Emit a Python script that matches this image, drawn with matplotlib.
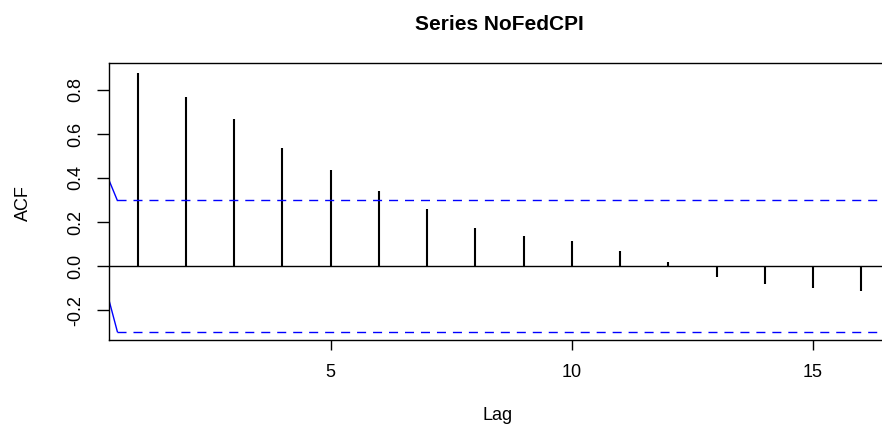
import matplotlib
matplotlib.use("Agg")
import matplotlib.pyplot as plt

plt.rcParams['font.family'] = ['Liberation Sans', 'DejaVu Sans']
plt.rcParams['axes.unicode_minus'] = False

# autocorrelations, lags 1..16
lags = list(range(1, 17))
acf = [0.879, 0.767, 0.667, 0.535, 0.436, 0.341, 0.258, 0.171,
       0.136, 0.114, 0.068, 0.017, -0.048, -0.083, -0.098, -0.114]
conf = 0.298
# the short solid blue pieces at the left edge of the (cropped) plot
edge_x = [0.407, 0.58]
edge_upper = [0.39, conf]
edge_lower = [-0.155, -conf]

yticks = [-0.2, 0.0, 0.2, 0.4, 0.6, 0.8]
ytick_labels = ['-0.2', '0.0', '0.2', '0.4', '0.6', '0.8']
xticks = [5, 10, 15]
xlim = (0.407, 16.43)
ylim = (-0.336, 0.921)

fig = plt.figure(figsize=(8.82, 4.25), dpi=100)
ax = fig.add_axes([109 / 882, 85 / 425, 1 - 109 / 882, (340 - 63.3) / 425])

ax.vlines(lags, 0, acf, color='black', lw=1.5)
ax.axhline(0, color='black', lw=1.0)
ax.plot([edge_x[1], xlim[1]], [conf, conf], color='blue', lw=1.0, dashes=(6.5, 5))
ax.plot([edge_x[1], xlim[1]], [-conf, -conf], color='blue', lw=1.0, dashes=(6.5, 5))
ax.plot(edge_x, edge_upper, color='blue', lw=1.0)
ax.plot(edge_x, edge_lower, color='blue', lw=1.0)

ax.set_xlim(*xlim)
ax.set_ylim(*ylim)
ax.set_xticks(xticks)
ax.set_xticklabels([str(t) for t in xticks], fontsize=13)
ax.set_yticks(yticks)
ax.set_yticklabels(ytick_labels, fontsize=13, rotation=90, va='center')
ax.tick_params(axis='x', length=7.5, width=1.0, pad=10)
ax.tick_params(axis='y', length=9, width=1.0, pad=9)
ax.spines['right'].set_visible(False)
for s in ['left', 'top', 'bottom']:
    ax.spines[s].set_linewidth(1.0)

fig.text(499 / 882, 1 - 24 / 425, 'Series NoFedCPI', ha='center', va='center',
         fontsize=15, fontweight='bold')
fig.text(498 / 882, 1 - 416 / 425, 'Lag', ha='center', va='center', fontsize=13)
fig.text(23.5 / 882, 1 - 203 / 425, 'ACF', ha='center', va='center', fontsize=13,
         rotation=90)

fig.savefig('out.png', dpi=100)
